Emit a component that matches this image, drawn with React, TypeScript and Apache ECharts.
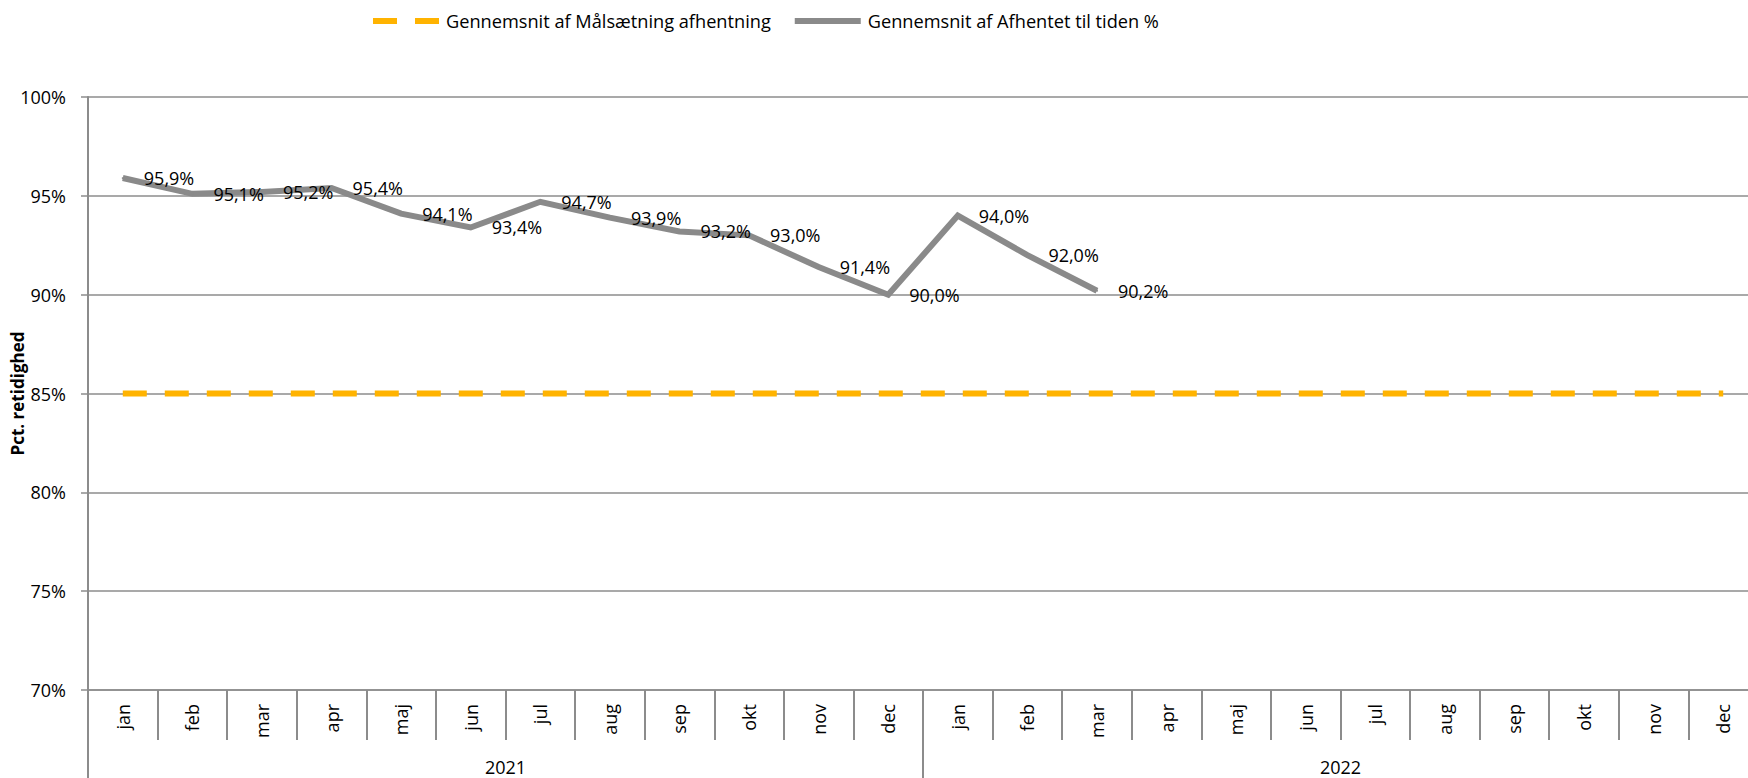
import React, { useEffect, useRef } from "react";
import * as echarts from "echarts";

const months = ["jan", "feb", "mar", "apr", "maj", "jun", "jul", "aug", "sep", "okt", "nov", "dec"];
const years = ["2021", "2022"];
const categories = years.flatMap((y) => months.map((m) => `${m} ${y}`));

const goalName = "Gennemsnit af Målsætning afhentning";
const actualName = "Gennemsnit af Afhentet til tiden %";

const goalValues = [
  85, 85, 85, 85, 85, 85, 85, 85, 85, 85, 85, 85,
  85, 85, 85, 85, 85, 85, 85, 85, 85, 85, 85, 85,
];
const actualValues: (number | null)[] = [
  95.9, 95.1, 95.2, 95.4, 94.1, 93.4, 94.7, 93.9, 93.2, 93.0, 91.4, 90.0,
  94.0, 92.0, 90.2, null, null, null, null, null, null, null, null, null,
];

const yMin = 70;
const yMax = 100;
const yStep = 5;
const yAxisTitle = "Pct. retidighed";

const FONT = "'Open Sans', 'Noto Sans', sans-serif";
const GRID_COLOR = "#8c8c8c";
const GOLD = "#FFB300";
const GRAY = "#8a8a8a";

export default function App() {
  const ref = useRef<HTMLDivElement>(null);

  useEffect(() => {
    if (!ref.current) return;
    const chart = echarts.init(ref.current, undefined, { renderer: "svg" });
    const fmtPct = (v: number) => v.toFixed(1).replace(".", ",") + "%";
    chart.setOption({
      animation: false,
      textStyle: { fontFamily: FONT, color: "#000" },
      legend: {
        left: 370,
        top: 12,
        padding: 0,
        itemWidth: 66,
        itemHeight: 18,
        itemGap: 21,
        data: [goalName, actualName],
        itemStyle: { opacity: 0 },
        lineStyle: { width: 6 },
        textStyle: { fontSize: 18.2, color: "#000", fontFamily: FONT, padding: [0, 0, 0, 2] },
      },
      grid: {
        left: 88,
        right: -10,
        top: 97,
        bottom: 88,
        containLabel: false,
        outerBoundsMode: "none",
      },
      xAxis: [
        {
          type: "category",
          data: categories,
          position: "bottom",
          boundaryGap: true,
          axisLine: { show: true, lineStyle: { color: GRID_COLOR, width: 1.5 } },
          axisTick: {
            show: true,
            interval: 0,
            length: 50,
            lineStyle: { color: GRID_COLOR, width: 2 },
          },
          axisLabel: {
            interval: 0,
            rotate: 90,
            margin: 14,
            fontSize: 18,
            color: "#000",
            fontFamily: FONT,
            formatter: (v: string) => v.split(" ")[0],
          },
          splitLine: { show: false },
        },
        {
          type: "category",
          data: years,
          position: "bottom",
          boundaryGap: true,
          axisLine: { show: false },
          axisTick: {
            show: true,
            interval: 0,
            length: 88,
            lineStyle: { color: GRID_COLOR, width: 2 },
          },
          axisLabel: {
            interval: 0,
            margin: 68,
            fontSize: 18,
            lineHeight: 18,
            color: "#000",
            fontFamily: FONT,
          },
          splitLine: { show: false },
        },
      ],
      yAxis: {
        type: "value",
        min: yMin,
        max: yMax,
        interval: yStep,
        name: yAxisTitle,
        nameLocation: "middle",
        nameGap: 62,
        nameMoveOverlap: false,
        nameTextStyle: { fontSize: 17, fontWeight: "bold", color: "#000", fontFamily: FONT },
        axisLine: { show: true, lineStyle: { color: GRID_COLOR, width: 2 } },
        axisTick: { show: true, length: 7, lineStyle: { color: GRID_COLOR, width: 1.5 } },
        axisLabel: {
          margin: 22,
          fontSize: 18,
          color: "#000",
          fontFamily: FONT,
          formatter: (v: number) => `${v}%`,
        },
        splitLine: { show: true, lineStyle: { color: GRID_COLOR, width: 1.5 } },
      },
      series: [
        {
          name: goalName,
          type: "line",
          xAxisIndex: 0,
          data: goalValues,
          symbol: "none",
          lineStyle: { color: GOLD, width: 6, type: [24, 18], cap: "butt" },
          itemStyle: { color: GOLD },
          z: 3,
        },
        {
          name: actualName,
          type: "line",
          xAxisIndex: 0,
          data: actualValues,
          symbol: "circle",
          symbolSize: 2,
          showSymbol: true,
          connectNulls: false,
          lineStyle: { color: GRAY, width: 6, join: "miter" },
          itemStyle: { color: GRAY },
          label: {
            show: true,
            position: "right",
            distance: 20,
            fontSize: 18,
            color: "#000",
            fontFamily: FONT,
            formatter: (p: any) => fmtPct(p.value as number),
          },
          z: 4,
        },
      ],
    });
    return () => chart.dispose();
  }, []);

  return (
    <div
      ref={ref}
      style={{ position: "fixed", left: 0, top: 0, width: 1748, height: 778, background: "#fff" }}
    />
  );
}
